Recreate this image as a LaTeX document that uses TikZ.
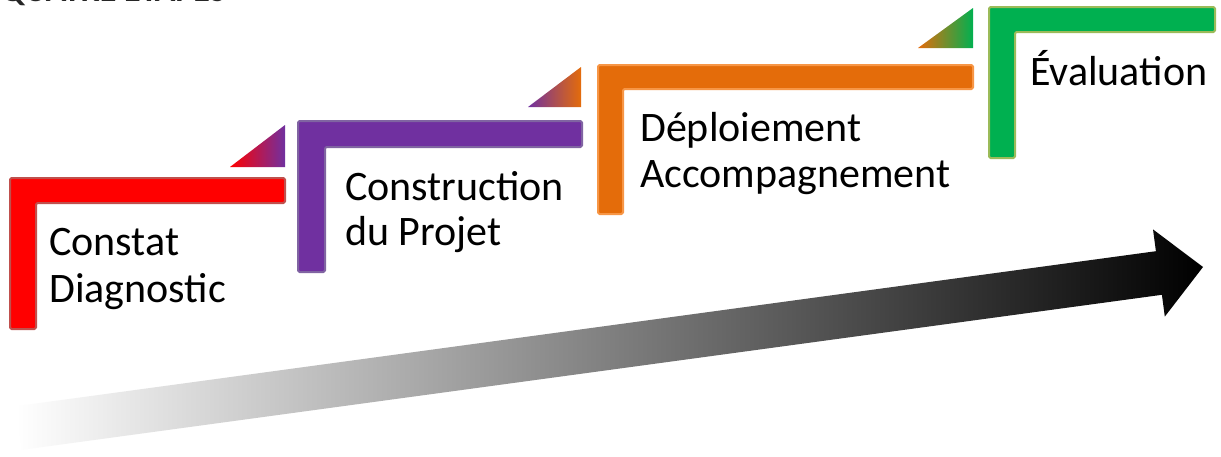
\documentclass[tikz,border=0pt]{standalone}
\usepackage{fontspec}
\setmainfont{Carlito}
\definecolor{cred}{HTML}{FF0000}
\definecolor{credb}{HTML}{C0504D}
\definecolor{cpur}{HTML}{7030A0}
\definecolor{cpurb}{HTML}{8064A2}
\definecolor{cora}{HTML}{E46C0A}
\definecolor{corab}{HTML}{F79646}
\definecolor{cgre}{HTML}{00B050}
\definecolor{cgreb}{HTML}{9BBB59}
\definecolor{ctitle}{HTML}{262626}
\begin{document}
\begin{tikzpicture}[x=1pt,y=-1pt,
  lbar/.style 2 args={fill=#1, draw=#2, line width=2pt, rounded corners=1.5pt, line join=round},
  lbl/.style={anchor=base west, inner sep=0pt, font=\fontsize{42}{50}\selectfont},
  ttl/.style={anchor=base west, inner sep=0pt, text=ctitle, font=\bfseries\fontsize{34}{40}\selectfont}]
\useasboundingbox (0,0) rectangle (1221,456);
\clip (0,0) rectangle (1221,456);
\fill[white] (0,0) rectangle (1221,456);

% clipped title
\node[ttl] (title) at (1,1) {QUATRE ÉTAPES};

% gradient arrow
\shade[left color=white, right color=black]
  (16.0,406.2) -- (1155.9,251.2) -- (1153.0,229.4) -- (1203,267)
  -- (1164.8,316.6) -- (1161.9,294.8) -- (22.0,449.8) -- cycle;

% step 1 (red)
\path[lbar={cred}{credb}] (10,178) -- (285,178) -- (285,203) -- (36,203) -- (36,329) -- (10,329) -- cycle;
\shade[left color=cred, middle color=cred, right color=cpur] (230,167) -- (285,125) -- (285,167) -- cycle;

% step 2 (purple)
\path[lbar={cpur}{cpurb}] (298,121) -- (582,121) -- (582,147) -- (325,147) -- (325,272) -- (298,272) -- cycle;
\shade[left color=cpur, middle color=cpur, right color=cora] (528,107) -- (581,67) -- (581,107) -- cycle;

% step 3 (orange)
\path[lbar={cora}{corab}] (598,65) -- (973,65) -- (973,89) -- (623,89) -- (623,214) -- (598,214) -- cycle;
\shade[left color=cora, middle color=cora, right color=cgre] (918,48) -- (973,8) -- (973,48) -- cycle;

% step 4 (green)
\path[lbar={cgre}{cgreb}] (989,7) -- (1215,7) -- (1215,32) -- (1015,32) -- (1015,158) -- (989,158) -- cycle;

% labels
\node[lbl] (t1a) at (49,255) {Constat};
\node[lbl] (t1b) at (49,302) {Diagnostic};
\node[lbl] (t2a) at (345,200) {Construction};
\node[lbl] (t2b) at (345,245) {du Projet};
\node[lbl] (t3a) at (640,141) {Déploiement};
\node[lbl] (t3b) at (640,187) {Accompagnement};
\node[lbl] (t4) at (1030,85) {Évaluation};
\end{tikzpicture}
\end{document}
